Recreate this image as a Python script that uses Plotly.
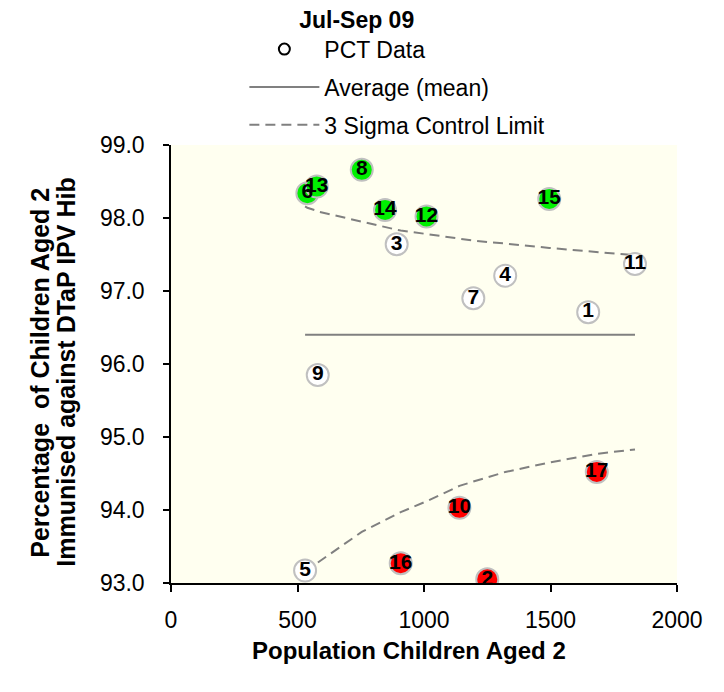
import plotly.graph_objects as go

# ---- data ----
pct_labels = ["1", "2", "3", "4", "5", "6", "7", "8", "9", "10", "11", "12", "13", "14", "15", "16", "17"]
population = [1649, 1250, 892, 1321, 530, 539, 1195, 754, 580, 1140, 1834, 1010, 576, 846, 1495, 908, 1683]
percent = [96.71, 93.05, 97.64, 97.21, 93.17, 98.34, 96.90, 98.66, 95.85, 94.03, 97.37, 98.02, 98.43, 98.11, 98.26, 93.27, 94.52]
status = ["within", "below", "within", "within", "within", "above", "within", "above", "within", "below",
          "within", "above", "above", "above", "above", "below", "below"]

limit_x = [530, 539, 576, 580, 754, 846, 892, 908, 1010, 1140, 1195, 1250, 1321, 1495, 1649, 1683, 1834]
upper_limit = [98.16, 98.14, 98.10, 98.09, 97.95, 97.87, 97.84, 97.83, 97.78, 97.71, 97.69, 97.67, 97.65, 97.59, 97.54, 97.53, 97.49]
lower_limit = [93.15, 93.17, 93.27, 93.28, 93.70, 93.86, 93.94, 93.97, 94.12, 94.33, 94.39, 94.45, 94.52, 94.65, 94.75, 94.77, 94.83]
mean_value = 96.40

y_title_lines = ["Percentage  of Children Aged 2", "Immunised against DTaP IPV Hib"]
x_title = "Population Children Aged 2"

status_colors = {"above": "#00F000", "below": "#FF0000", "within": "#FFFFFF"}

FONT = "Arial, Liberation Sans, sans-serif"
NARROW = "Arial Narrow, Liberation Sans Narrow, Liberation Sans, sans-serif"
DASH = "10px,6px"

fig = go.Figure()

# mean line
fig.add_trace(go.Scatter(
    x=[limit_x[0], limit_x[-1]], y=[mean_value, mean_value], mode="lines",
    line=dict(color="#808080", width=2), name="Average (mean)",
    legendgroup="g2", legendrank=2, hoverinfo="skip"))

# control limits
fig.add_trace(go.Scatter(
    x=limit_x, y=upper_limit, mode="lines",
    line=dict(color="#808080", width=2, dash=DASH), name="3 Sigma Control Limit",
    legendgroup="g3", legendrank=3, hoverinfo="skip"))
fig.add_trace(go.Scatter(
    x=limit_x, y=lower_limit, mode="lines",
    line=dict(color="#808080", width=2, dash=DASH), name="3 Sigma Control Limit",
    legendgroup="g3", showlegend=False, hoverinfo="skip"))

# data points
fig.add_trace(go.Scatter(
    x=population, y=percent, mode="markers+text",
    marker=dict(size=22, color=[status_colors[s] for s in status],
                line=dict(color="#C0C0C0", width=2)),
    text=pct_labels, textposition="middle center",
    textfont=dict(family=NARROW, size=21, color="black", weight="bold"),
    showlegend=False, name="PCT Data"))

# legend entry for data
fig.add_trace(go.Scatter(
    x=[None], y=[None], mode="markers",
    marker=dict(symbol="circle-open", size=11, color="black", line=dict(width=2)),
    name="PCT Data", legendgroup="g1", legendrank=1))

# y-axis title (two tightly spaced lines)
for i, line_text in enumerate(y_title_lines):
    fig.add_annotation(
        text="<b>" + line_text + "</b>", textangle=-90,
        xref="paper", yref="paper", x=(40 + 26 * i - 171) / 506, y=0.48,
        xanchor="center", yanchor="middle", showarrow=False,
        font=dict(size=25, family=FONT, color="black"))

# x-axis title
fig.add_annotation(
    text="<b>" + x_title + "</b>", xref="paper", yref="paper",
    x=(409 - 171) / 506, y=-(650 - 583) / 438, xanchor="center", yanchor="middle",
    showarrow=False, font=dict(size=24, family=FONT, color="black"))

fig.update_layout(
    width=716, height=684,
    margin=dict(l=163, r=47, t=137, b=109),
    paper_bgcolor="white",
    plot_bgcolor="#FFFFF0",
    font=dict(family=FONT, color="black"),
    title=dict(text="<b>Jul-Sep 09</b>", x=0.487, xanchor="center", y=0.982, yanchor="middle",
               font=dict(size=23, family=FONT)),
    showlegend=True,
    legend=dict(x=0.145, xanchor="left", y=1.268, yanchor="top",
                bgcolor="rgba(0,0,0,0)", itemwidth=70,
                traceorder="grouped", tracegroupgap=5,
                font=dict(size=23, family=FONT)),
    xaxis=dict(range=[0, 2000], tickvals=[0, 500, 1000, 1500, 2000],
               showgrid=False, zeroline=False, showline=True, linecolor="black", linewidth=2,
               ticks="outside", ticklen=7, tickwidth=1.5, tickcolor="black",
               ticklabelstandoff=8,
               tickfont=dict(size=23, family=FONT)),
    yaxis=dict(range=[93, 99], dtick=1, tickformat=".1f",
               showgrid=False, zeroline=False, showline=True, linecolor="black", linewidth=1.5,
               ticks="outside", ticklen=6, tickwidth=1.5, tickcolor="black",
               ticklabelstandoff=14,
               tickfont=dict(size=23, family=FONT)),
)

fig.write_html("out.html")
